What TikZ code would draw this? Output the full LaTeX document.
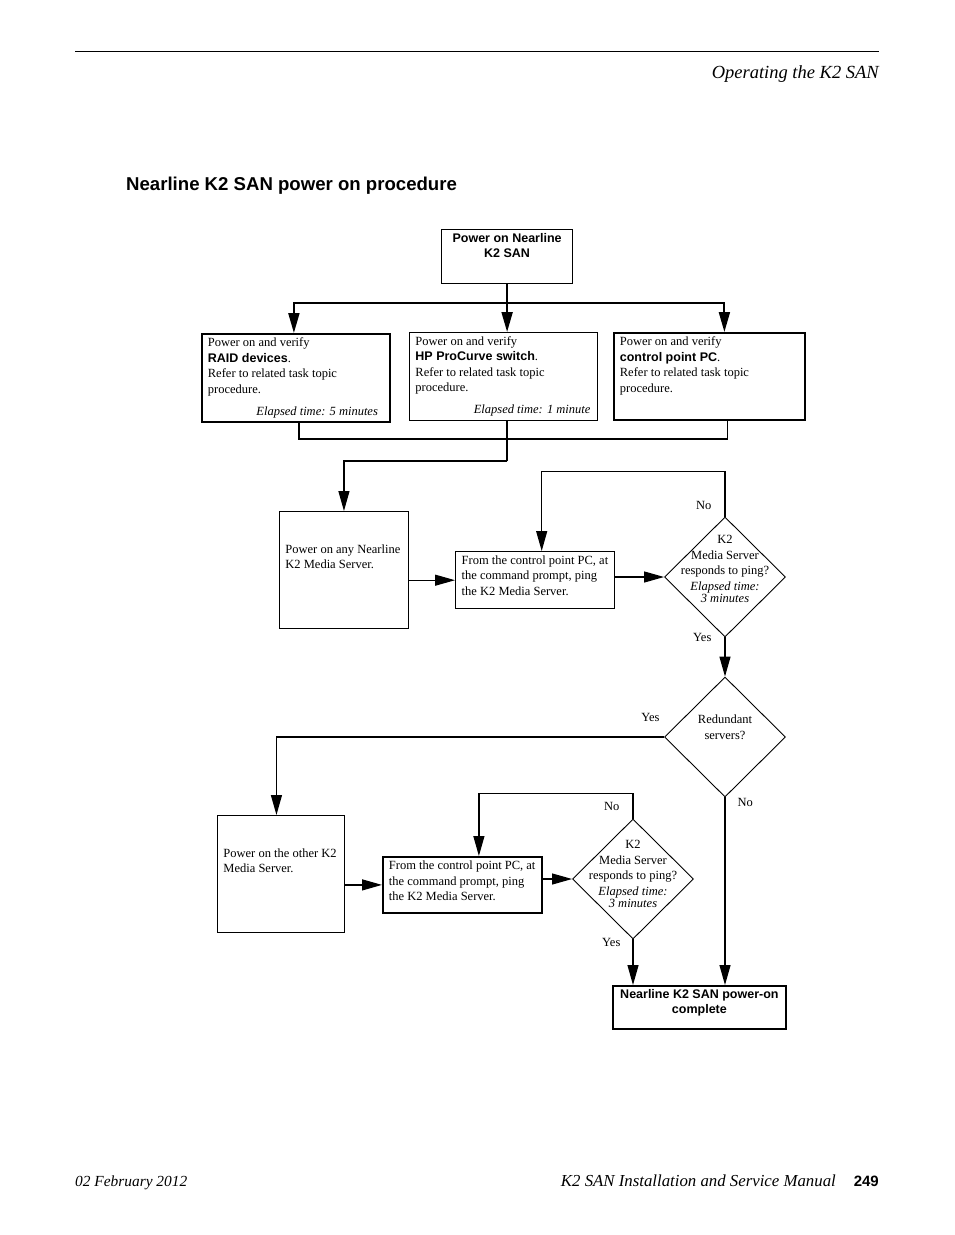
\documentclass[tikz,border=0pt]{standalone}
\usepackage{fontspec}
\setmainfont{Liberation Serif}
\setsansfont{Liberation Sans}
\usetikzlibrary{shapes.geometric}
\usetikzlibrary{arrows.meta}
\usetikzlibrary{positioning}
\usetikzlibrary{calc}

\newcommand{\flowfont}{\fontsize{12.5}{15.5}\selectfont}

\tikzset{
  stepbox/.style={draw, line width=0.9pt, inner xsep=6pt, inner ysep=4pt, anchor=north west},
  heavy/.style={line width=1.8pt},
  decision/.style={draw, diamond, line width=0.9pt, inner sep=0pt, minimum width=121pt, minimum height=120pt},
  flow/.style={line width=1.2pt, -{Triangle[length=20pt,width=11pt]}},
  link/.style={line width=1.2pt},
  lbl/.style={font=\flowfont, inner sep=0pt},
}

\begin{document}
\begin{tikzpicture}[x=1pt,y=-1pt]

\path[fill=white] (0,0) rectangle (954,1235);

% page header and footer
\draw[line width=0.8pt] (75,51) -- (879,51);
\node[anchor=base east, inner sep=0pt, font=\fontsize{18.5}{22}\selectfont\itshape] (chapter) at (879,78) {Operating the K2 SAN};
\node[anchor=base west, inner sep=0pt, font=\fontsize{18.6}{22}\selectfont\sffamily\bfseries] (title) at (126,190) {Nearline K2 SAN power on procedure};
\node[anchor=base west, inner sep=0pt, font=\fontsize{15.4}{18}\selectfont\itshape] (date) at (75,1186) {02 February 2012};
\node[anchor=base east, inner sep=0pt, font=\fontsize{15}{18}\selectfont\sffamily\bfseries] (page) at (879,1186) {249};
\node[anchor=base east, inner sep=0pt, font=\fontsize{16.8}{18}\selectfont\itshape] (manual) at (836,1186) {K2 SAN Installation and Service Manual};

% boxes
\node[stepbox, line width=1.2pt] (start) at (441,229) {\parbox[c][46pt][t]{119pt}{\centering\fontsize{12.5}{15}\selectfont\sffamily\bfseries Power on Nearline\\K2 SAN}};

\node[stepbox, heavy] (raid) at (201,333) {\parbox[c][80pt][t]{176pt}{\flowfont\raggedright
  Power on and verify\\\textsf{\bfseries RAID devices}.\\Refer to related task topic\\procedure.\par\vfill
  \makebox[\linewidth][r]{\textit{Elapsed time: 5 minutes}\hspace*{6pt}}}};
\node[stepbox] (switch) at (409,332) {\parbox[c][80pt][t]{176pt}{\flowfont\raggedright
  Power on and verify\\\textsf{\bfseries HP ProCurve switch}.\\Refer to related task topic\\procedure.\par\vfill
  \makebox[\linewidth][r]{\textit{Elapsed time: 1 minute}\hspace*{1pt}}}};
\node[stepbox, heavy] (pc) at (613,332) {\parbox[c][79pt][t]{179pt}{\flowfont\raggedright
  Power on and verify\\\textsf{\bfseries control point PC}.\\Refer to related task topic\\procedure.}};

\node[stepbox] (anyserver) at (279,511) {\parbox[c][109pt][t]{117pt}{\flowfont\raggedright
  \vspace*{29pt}Power on any Nearline\\K2 Media Server.}};
\node[stepbox, line width=1.4pt] (pingA) at (455,551) {\parbox[c][49pt][t]{147pt}{\flowfont\raggedright
  From the control point PC, at\\the command prompt, ping\\the K2 Media Server.}};
\node[decision] (askA) at (725,577) {};
\node[lbl, align=center] (askAtext) at ($(askA)+(0,-8)$) {K2\\Media Server\\responds to ping?\\\textit{Elapsed time:}\\[-3pt]\textit{3 minutes}};

\node[decision] (redundant) at (725,737) {};
\node[lbl, align=center] (redundanttext) at ($(redundant)+(0,-10)$) {Redundant\\servers?};

\node[stepbox] (other) at (217,815) {\parbox[c][109pt][t]{115pt}{\flowfont\raggedright
  \vspace*{29pt}Power on the other K2\\Media Server.}};
\node[stepbox, heavy] (pingB) at (382,856) {\parbox[c][48pt][t]{147pt}{\flowfont\raggedright
  From the control point PC, at\\the command prompt, ping\\the K2 Media Server.}};
\node[decision] (askB) at (633,879) {};
\node[lbl, align=center] (askBtext) at ($(askB)+(0,-5)$) {K2\\Media Server\\responds to ping?\\\textit{Elapsed time:}\\[-3pt]\textit{3 minutes}};

\node[stepbox, heavy] (done) at (612,985) {\parbox[c][35pt][t]{161pt}{\centering\fontsize{12.5}{15}\selectfont\sffamily\bfseries Nearline K2 SAN power-on\\complete}};

% connectors
\coordinate (bar) at ($(start.south)+(0,19)$);
\draw[flow, line width=2pt] (start.south) -- (start.south |- switch.north);
\draw[flow, line width=2pt] (bar) -| ([xshift=-2pt]raid.north);
\draw[flow, line width=2pt] (bar) -| ([xshift=15pt]pc.north);

\coordinate (join) at ($(switch.south)+(0,18)$);
\draw[link] ([xshift=3pt]raid.south) |- (join) -| ([xshift=18pt]pc.south);
\draw[line width=2pt] ([xshift=4pt]switch.south) -- ++(0,40) coordinate (drop);
\draw[flow] (drop) -| (anyserver.north);

\draw[flow] (anyserver.east |- pingA.west) -- (pingA.west);
\draw[flow] (pingA.east |- askA.west) -- (askA.west);
\draw[flow] (askA.north) -- node[lbl, pos=0.25, left=13pt] {No} ++(0,-45) -| ([xshift=6.5pt]pingA.north);
\draw[flow] (askA.south) node[lbl, left=13pt] {Yes} -- (redundant.north);

\draw[flow] (redundant.west) node[lbl, above left=15pt and 4pt] {Yes} -| ([xshift=-4.5pt]other.north);
\draw[flow] (redundant.south) node[lbl, below right=0pt and 12pt] {No} -- (redundant.south |- done.north);

\draw[flow] (other.east |- pingB.west) -- (pingB.west);
\draw[flow] (pingB.east |- askB.west) -- (askB.west);
\draw[flow] (askB.north) -- node[lbl, pos=0.5, left=13pt] {No} ++(0,-25) -| ([xshift=16.5pt]pingB.north);
\draw[flow] (askB.south) node[lbl, left=12pt, yshift=-3pt] {Yes} -- (askB.south |- done.north);

\end{tikzpicture}
\end{document}
